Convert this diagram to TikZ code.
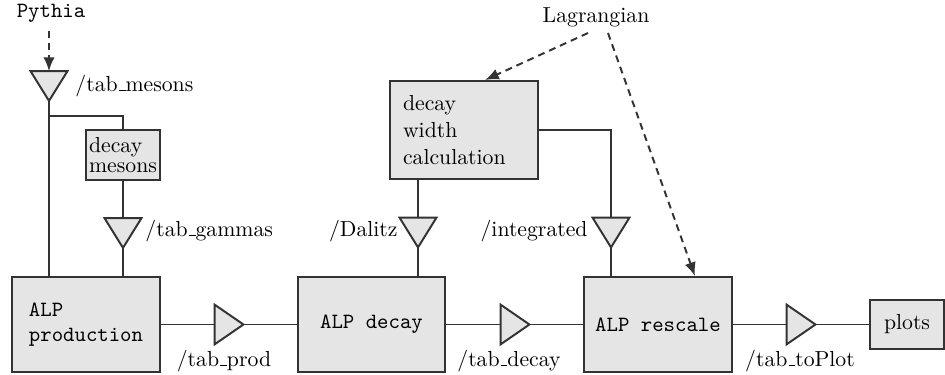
\documentclass[tikz,border=0pt]{standalone}
\usetikzlibrary{arrows.meta}
% short underscore in the style of the classic OT1 rule
\newcommand\usc{\leavevmode\kern.06em\vbox{\hrule width.3em}}
\begin{document}
\begin{tikzpicture}[x=0.46pt,y=-0.46pt,
  line/.style={draw=black!80, line width=0.9pt},
  box/.style={line, fill=gray!20, inner sep=0pt, align=left,
    font=\fontsize{10}{12}\selectfont},
  ttbox/.style={box, font=\ttfamily\fontsize{10}{11.5}\selectfont},
  trid/.style={minimum width=16.6pt, minimum height=13.3pt, inner sep=0pt},
  trir/.style={minimum width=12.9pt, minimum height=17.9pt, inner sep=0pt},
  lbl/.style={inner sep=0pt, font=\fontsize{10}{12}\selectfont},
  dasharrow/.style={line, dash pattern=on 3.2pt off 2.3pt,
    -{Latex[length=6.3pt, width=5.2pt]}},
]
\useasboundingbox (0,0) rectangle (945,374);

% processing blocks
\node[ttbox, minimum width=68.1pt, minimum height=43.7pt] (prod) at (86,324.5) {ALP\\production};
\node[ttbox, minimum width=67.6pt, minimum height=43.7pt] (dec) at (371.5,324.5) {ALP decay};
\node[ttbox, minimum width=68.1pt, minimum height=43.7pt] (res) at (658,324.5) {ALP rescale};
\node[box, minimum width=34pt, minimum height=22.5pt] (plots) at (907,324.5) {plots};
\node[box, minimum width=34pt, minimum height=23pt,
  font=\fontsize{10}{9.4}\selectfont] (mes) at (123,155) {decay\\mesons};
\node[box, minimum width=68.1pt, minimum height=45.1pt, text width=56.1pt,
  inner xsep=6pt, font=\fontsize{10}{12.5}\selectfont] (dwc) at (464,130)
  {decay\\width\\calculation};

% table stages (triangles)
\node[trid] (tmes) at (49,86) {};
\node[trid] (tgam) at (123,233) {};
\node[trid] (tdal) at (418,232.5) {};
\node[trid] (tint) at (611,232.5) {};
\node[trir] (tprod) at (229,324.5) {};
\node[trir] (tdec) at (515,324.5) {};
\node[trir] (tplot) at (801,324.5) {};
\foreach \t in {tmes,tgam,tdal,tint}
  \draw[line, fill=gray!20] (\t.north west) -- (\t.north east) -- (\t.south) -- cycle;
\foreach \t in {tprod,tdec,tplot}
  \draw[line, fill=gray!20] (\t.north west) -- (\t.east) -- (\t.south west) -- cycle;

% labels
\node[lbl, font=\ttfamily\fontsize{10}{12}\selectfont, anchor=base] (pythia) at (51,18) {Pythia};
\node[lbl, anchor=base] (lag) at (596,22.5) {Lagrangian};
\node[lbl, anchor=base west] at (75,91) {/tab\usc mesons};
\node[lbl, anchor=base west] at (145,236) {/tab\usc gammas};
\node[lbl, anchor=base east] at (398,236) {/Dalitz};
\node[lbl, anchor=base east] at (588,236) {/integrated};
\node[lbl, anchor=base] at (224,366) {/tab\usc prod};
\node[lbl, anchor=base] at (509,366) {/tab\usc decay};
\node[lbl, anchor=base] at (800,366) {/tab\usc toPlot};

% data flow
\coordinate (pyout) at (49,31);
\coordinate (lagA) at (588,33);
\coordinate (lagB) at (608,33);
\coordinate (split) at (49,116);
\draw[dasharrow] (pyout) -- (tmes.north);
\draw[dasharrow] (lagA) -- ([xshift=9.7pt]dwc.north);
\draw[dasharrow] (lagB) -- ([xshift=17pt]res.north);

\draw[line] (tmes.south) -- (tmes.south |- prod.north);
\draw[line] (split) -| (mes.north);
\draw[line] (mes.south) -- (tgam.north);
\draw[line] (tgam.south) -- (tgam.south |- prod.north);

\draw[line] (prod.east) -- (tprod.west);
\draw[line] (tprod.east) -- (dec.west);
\draw[line] (dec.east) -- (tdec.west);
\draw[line] (tdec.east) -- (res.west);
\draw[line] (res.east) -- (tplot.west);
\draw[line] (tplot.east) -- (plots.west);

\draw[line] (tdal.north |- dwc.south) -- (tdal.north);
\draw[line] (tdal.south) -- (tdal.south |- dec.north);
\draw[line] (dwc.east) -| (tint.north);
\draw[line] (tint.south) -- (tint.south |- res.north);
\end{tikzpicture}
\end{document}
